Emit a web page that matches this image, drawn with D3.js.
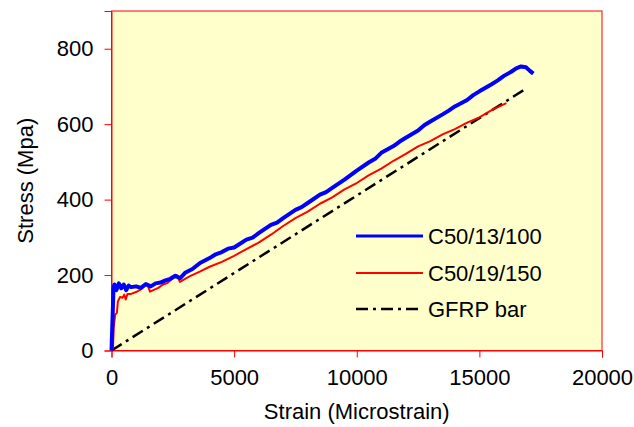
<!DOCTYPE html>
<html>
<head>
<meta charset="utf-8">
<script src="https://cdn.jsdelivr.net/npm/d3@7"></script>
<style>
  body { margin: 0; background: #fff; }
  text { font-family: Arial, "Liberation Sans", sans-serif; fill: #000; }
</style>
</head>
<body>
<svg width="634" height="427"></svg>
<script>
// ---- data ----
const blueStrain = [0, 30, 60, 80, 120, 200, 300, 400, 500, 600, 700, 800, 1000, 1200, 1400, 1600, 1800, 2000, 2200, 2400, 2600, 2800, 3000, 3300, 3609, 4000, 4250, 4500, 4750, 5000, 5500, 5750, 6000, 6500, 6750, 7000, 7500, 7750, 8000, 8500, 8750, 9000, 9500, 9750, 10000, 10500, 10750, 11000, 11500, 11750, 12000, 12500, 12750, 13000, 13500, 13750, 14000, 14500, 14750, 15000, 15500, 15750, 16000, 16300, 16500, 16700, 16900, 17050, 17200];
const blueStress = [0, 60, 120, 165, 175, 160, 178, 165, 175, 160, 172, 168, 170, 166, 176, 170, 178, 180, 186, 190, 198, 192, 206, 216, 232, 245, 255, 261, 270, 273, 294, 299, 311, 333, 339, 351, 373, 380, 391, 413, 420, 431, 453, 465, 477, 499, 508, 524, 542, 554, 564, 583, 597, 607, 626, 636, 647, 664, 677, 687, 706, 716, 728, 739, 748, 753, 751, 742, 734];

const redStrain = [0, 60, 90, 150, 220, 260, 350, 450, 520, 580, 650, 800, 1000, 1200, 1366, 1480, 1570, 1700, 1910, 2100, 2250, 2450, 2660, 2790, 3000, 3200, 3600, 4000, 4500, 5000, 5500, 6000, 6500, 7000, 7500, 8000, 8500, 9000, 9500, 10000, 10500, 11000, 11500, 12000, 12500, 13000, 13500, 14000, 14500, 15000, 15500, 16100];
const redStress = [0, 5, 60, 95, 100, 130, 142, 140, 148, 135, 150, 150, 155, 162, 174, 172, 156, 160, 166, 175, 178, 188, 200, 182, 190, 197, 209, 222, 235, 251, 269, 286, 307, 330, 351, 368, 389, 406, 427, 444, 465, 482, 503, 521, 541, 555, 573, 587, 604, 618, 637, 656];

const gfrpStrain = [0, 16800];
const gfrpStress = [0, 690];

const xTicks = [0, 5000, 10000, 15000, 20000];
const yTicks = [0, 200, 400, 600, 800];

const seriesNames = ["C50/13/100", "C50/19/150", "GFRP bar"];
const seriesColors = ["#0000ff", "#ff0000", "#000000"];
const seriesWidths = [4, 2, 2.5];
const seriesDash = [null, null, "12,5,3,5"];

// ---- layout ----
const svg = d3.select("svg");
const plotL = 111.5, plotR = 602, plotT = 11, plotB = 350.5;
const fs = 22;

const x = d3.scaleLinear().domain([0, 20000]).range([plotL, plotR]);
const y = d3.scaleLinear().domain([0, 900]).range([plotB, plotT]);

// plot background + border
svg.append("rect")
  .attr("x", plotL).attr("y", plotT)
  .attr("width", plotR - plotL).attr("height", plotB - plotT)
  .attr("fill", "#ffffcc")
  .attr("stroke", "#ff0000")
  .attr("stroke-width", 1);

// axes
const xAxis = svg.append("g")
  .attr("transform", `translate(0,${plotB})`)
  .call(d3.axisBottom(x).tickValues(xTicks).tickSize(7).tickPadding(12).tickFormat(d3.format("d")));
const yAxis = svg.append("g")
  .attr("transform", `translate(${plotL},0)`)
  .call(d3.axisLeft(y).tickValues(yTicks).tickSize(7).tickPadding(11).tickFormat(d3.format("d")));

[xAxis, yAxis].forEach(g => {
  g.select(".domain").attr("stroke", "#ff0000");
  g.selectAll(".tick line").attr("stroke", "#ff0000");
  g.selectAll(".tick text").attr("font-size", fs).attr("font-family", "Arial, 'Liberation Sans', sans-serif").attr("fill", "#000");
});

// axis titles
svg.append("text")
  .attr("x", (plotL + plotR) / 2).attr("y", 419)
  .attr("text-anchor", "middle").attr("font-size", fs)
  .text("Strain (Microstrain)");
svg.append("text")
  .attr("transform", `translate(33,${(plotT + plotB) / 2}) rotate(-90)`)
  .attr("text-anchor", "middle").attr("font-size", fs)
  .text("Stress (Mpa)");

// series
const line = d3.line().x(d => x(d[0])).y(d => y(d[1]));
const series = [
  d3.zip(blueStrain, blueStress),
  d3.zip(redStrain, redStress),
  d3.zip(gfrpStrain, gfrpStress)
];

// draw GFRP first, then red, then blue on top
[2, 1, 0].forEach(i => {
  svg.append("path")
    .datum(series[i])
    .attr("d", line)
    .attr("fill", "none")
    .attr("stroke", seriesColors[i])
    .attr("stroke-width", seriesWidths[i])
    .attr("stroke-linejoin", "round")
    .attr("stroke-dasharray", seriesDash[i]);
});

// legend
const legY = [236, 273, 309];
const leg = svg.append("g");
seriesNames.forEach((name, i) => {
  leg.append("line")
    .attr("x1", 356).attr("x2", 423)
    .attr("y1", legY[i]).attr("y2", legY[i])
    .attr("stroke", seriesColors[i])
    .attr("stroke-width", i === 0 ? 3 : seriesWidths[i])
    .attr("stroke-dasharray", seriesDash[i]);
  leg.append("text")
    .attr("x", 428).attr("y", legY[i])
    .attr("dy", "0.36em")
    .attr("font-size", fs)
    .text(name);
});
</script>
</body>
</html>
